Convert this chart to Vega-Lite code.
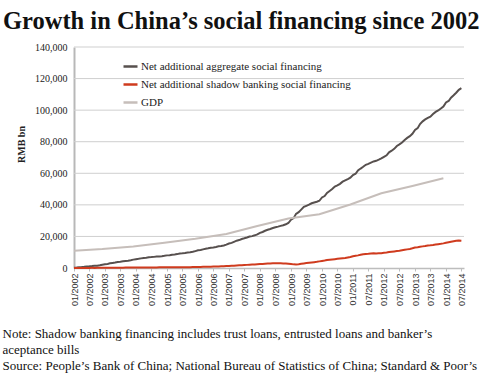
{
  "$schema": "https://vega.github.io/schema/vega-lite/v6.json",
  "width": 390,
  "height": 221,
  "autosize": "none",
  "padding": {"left": 74, "top": 47, "right": 16, "bottom": 108},
  "background": "white",
  "config": {"view": {"stroke": null}},
  "title": {
    "text": "Growth in China’s social financing since 2002",
    "anchor": "start",
    "frame": "group",
    "dx": -71,
    "offset": 8,
    "font": "Liberation Serif",
    "fontSize": 24.5,
    "fontWeight": "bold",
    "color": "#111111"
  },
  "encoding": {
    "y": {
      "field": "value",
      "type": "quantitative",
      "scale": {"domain": [0, 140000], "nice": false},
      "axis": {
        "values": [0, 20000, 40000, 60000, 80000, 100000, 120000, 140000],
        "format": ",.0f",
        "labelExpr": "datum.value == 0 ? '0\u00a0\u00a0\u00a0\u00a0' : datum.label",
        "grid": false,
        "domainColor": "#b8b8b8",
        "domainWidth": 2,
        "ticks": false,
        "labelFont": "Liberation Serif",
        "labelFontSize": 10,
        "labelColor": "#222222",
        "labelPadding": 7,
        "title": "RMB bn",
        "titleFont": "Liberation Serif",
        "titleFontSize": 10,
        "titleFontWeight": "bold",
        "titleColor": "#222222",
        "titleX": -48,
        "titleY": 97
      }
    }
  },
  "layer": [
    {
      "data": {"values": [{"value": 20000}, {"value": 40000}, {"value": 60000}, {"value": 80000}, {"value": 100000}, {"value": 120000}, {"value": 140000}]},
      "mark": {"type": "rule", "color": "#cfcfcf", "strokeWidth": 1},
      "encoding": {}
    },
    {
      "data": {
        "format": {"parse": {"d": "date:'%Y-%m'"}},
        "values": [
          {"d":"2002-01","a":150,"s":0,"g":11000},
          {"d":"2002-02","a":300,"s":30},
          {"d":"2002-03","a":500,"s":10},
          {"d":"2002-04","a":600,"s":40},
          {"d":"2002-05","a":750,"s":60},
          {"d":"2002-06","a":950,"s":40},
          {"d":"2002-07","a":1050,"s":70},
          {"d":"2002-08","a":1200,"s":80},
          {"d":"2002-09","a":1400,"s":60},
          {"d":"2002-10","a":1500,"s":90},
          {"d":"2002-11","a":1750,"s":100},
          {"d":"2002-12","a":2100,"s":80,"g":12000},
          {"d":"2003-01","a":2400,"s":120},
          {"d":"2003-02","a":2600,"s":140},
          {"d":"2003-03","a":2950,"s":160},
          {"d":"2003-04","a":3200,"s":170},
          {"d":"2003-05","a":3450,"s":190},
          {"d":"2003-06","a":3800,"s":200},
          {"d":"2003-07","a":4000,"s":220},
          {"d":"2003-08","a":4250,"s":230},
          {"d":"2003-09","a":4500,"s":250},
          {"d":"2003-10","a":4650,"s":260},
          {"d":"2003-11","a":4950,"s":270},
          {"d":"2003-12","a":5300,"s":280,"g":13600},
          {"d":"2004-01","a":5600,"s":300},
          {"d":"2004-02","a":5800,"s":310},
          {"d":"2004-03","a":6100,"s":330},
          {"d":"2004-04","a":6400,"s":340},
          {"d":"2004-05","a":6550,"s":350},
          {"d":"2004-06","a":6800,"s":360},
          {"d":"2004-07","a":6900,"s":370},
          {"d":"2004-08","a":7050,"s":380},
          {"d":"2004-09","a":7300,"s":390},
          {"d":"2004-10","a":7350,"s":400},
          {"d":"2004-11","a":7500,"s":410},
          {"d":"2004-12","a":7700,"s":420,"g":16000},
          {"d":"2005-01","a":8000,"s":430},
          {"d":"2005-02","a":8100,"s":440},
          {"d":"2005-03","a":8450,"s":450},
          {"d":"2005-04","a":8600,"s":470},
          {"d":"2005-05","a":8800,"s":480},
          {"d":"2005-06","a":9150,"s":500},
          {"d":"2005-07","a":9300,"s":510},
          {"d":"2005-08","a":9500,"s":520},
          {"d":"2005-09","a":9800,"s":540},
          {"d":"2005-10","a":9950,"s":550},
          {"d":"2005-11","a":10250,"s":570},
          {"d":"2005-12","a":10700,"s":600,"g":18500},
          {"d":"2006-01","a":11200,"s":650},
          {"d":"2006-02","a":11400,"s":680},
          {"d":"2006-03","a":11800,"s":720},
          {"d":"2006-04","a":12200,"s":760},
          {"d":"2006-05","a":12450,"s":800},
          {"d":"2006-06","a":12850,"s":850},
          {"d":"2006-07","a":13050,"s":900},
          {"d":"2006-08","a":13350,"s":950},
          {"d":"2006-09","a":13750,"s":1000},
          {"d":"2006-10","a":13900,"s":1050},
          {"d":"2006-11","a":14250,"s":1100},
          {"d":"2006-12","a":14800,"s":1200,"g":21600},
          {"d":"2007-01","a":15500,"s":1300},
          {"d":"2007-02","a":15900,"s":1380},
          {"d":"2007-03","a":16600,"s":1480},
          {"d":"2007-04","a":17300,"s":1580},
          {"d":"2007-05","a":17700,"s":1680},
          {"d":"2007-06","a":18400,"s":1780},
          {"d":"2007-07","a":18800,"s":1880},
          {"d":"2007-08","a":19300,"s":1980},
          {"d":"2007-09","a":19900,"s":2080},
          {"d":"2007-10","a":20200,"s":2180},
          {"d":"2007-11","a":20700,"s":2280},
          {"d":"2007-12","a":21300,"s":2400,"g":26600},
          {"d":"2008-01","a":22300,"s":2500},
          {"d":"2008-02","a":22800,"s":2600},
          {"d":"2008-03","a":23600,"s":2700},
          {"d":"2008-04","a":24200,"s":2800},
          {"d":"2008-05","a":24700,"s":2900},
          {"d":"2008-06","a":25300,"s":2950},
          {"d":"2008-07","a":25800,"s":3000},
          {"d":"2008-08","a":26200,"s":3000},
          {"d":"2008-09","a":26700,"s":2950},
          {"d":"2008-10","a":27100,"s":2900},
          {"d":"2008-11","a":27700,"s":2850},
          {"d":"2008-12","a":28500,"s":2700,"g":31400},
          {"d":"2009-01","a":30600,"s":2500},
          {"d":"2009-02","a":31600,"s":2300},
          {"d":"2009-03","a":34300,"s":2200},
          {"d":"2009-04","a":35400,"s":2400},
          {"d":"2009-05","a":37000,"s":2700},
          {"d":"2009-06","a":38700,"s":2900},
          {"d":"2009-07","a":39400,"s":3100},
          {"d":"2009-08","a":40100,"s":3300},
          {"d":"2009-09","a":41000,"s":3500},
          {"d":"2009-10","a":41500,"s":3700},
          {"d":"2009-11","a":42000,"s":3900},
          {"d":"2009-12","a":42600,"s":4200,"g":34100},
          {"d":"2010-01","a":44700,"s":4500},
          {"d":"2010-02","a":45600,"s":4700},
          {"d":"2010-03","a":47600,"s":5000},
          {"d":"2010-04","a":48800,"s":5200},
          {"d":"2010-05","a":50000,"s":5400},
          {"d":"2010-06","a":51600,"s":5600},
          {"d":"2010-07","a":52300,"s":5800},
          {"d":"2010-08","a":53300,"s":6000},
          {"d":"2010-09","a":54700,"s":6200},
          {"d":"2010-10","a":55500,"s":6400},
          {"d":"2010-11","a":56300,"s":6700},
          {"d":"2010-12","a":57200,"s":7000,"g":40200},
          {"d":"2011-01","a":58900,"s":7400},
          {"d":"2011-02","a":59700,"s":7700},
          {"d":"2011-03","a":61800,"s":8000},
          {"d":"2011-04","a":63000,"s":8400},
          {"d":"2011-05","a":64100,"s":8700},
          {"d":"2011-06","a":65400,"s":8900},
          {"d":"2011-07","a":66000,"s":9000},
          {"d":"2011-08","a":66800,"s":9200},
          {"d":"2011-09","a":67500,"s":9300},
          {"d":"2011-10","a":67900,"s":9200},
          {"d":"2011-11","a":68600,"s":9300},
          {"d":"2011-12","a":69400,"s":9400,"g":47300},
          {"d":"2012-01","a":70400,"s":9600},
          {"d":"2012-02","a":71400,"s":9800},
          {"d":"2012-03","a":73300,"s":10100},
          {"d":"2012-04","a":74300,"s":10300},
          {"d":"2012-05","a":75500,"s":10500},
          {"d":"2012-06","a":77300,"s":10700},
          {"d":"2012-07","a":78300,"s":10900},
          {"d":"2012-08","a":79500,"s":11200},
          {"d":"2012-09","a":81100,"s":11500},
          {"d":"2012-10","a":82400,"s":11800},
          {"d":"2012-11","a":83500,"s":12100},
          {"d":"2012-12","a":85000,"s":12500,"g":52000},
          {"d":"2013-01","a":87500,"s":13000},
          {"d":"2013-02","a":88600,"s":13200},
          {"d":"2013-03","a":91200,"s":13500},
          {"d":"2013-04","a":92900,"s":13700},
          {"d":"2013-05","a":94100,"s":13900},
          {"d":"2013-06","a":95100,"s":14300},
          {"d":"2013-07","a":95900,"s":14400},
          {"d":"2013-08","a":97500,"s":14600},
          {"d":"2013-09","a":98900,"s":14900},
          {"d":"2013-10","a":99800,"s":15100},
          {"d":"2013-11","a":101000,"s":15300},
          {"d":"2013-12","a":102300,"s":15600,"g":56900},
          {"d":"2014-01","a":104900,"s":16000},
          {"d":"2014-02","a":105800,"s":16300},
          {"d":"2014-03","a":107900,"s":16600},
          {"d":"2014-04","a":109400,"s":16900},
          {"d":"2014-05","a":111000,"s":17200},
          {"d":"2014-06","a":112900,"s":17400},
          {"d":"2014-07","a":113900,"s":17300}
        ]
      },
      "transform": [
        {"fold": ["a", "s", "g"], "as": ["series", "value"]},
        {"filter": "isValid(datum.value)"}
      ],
      "mark": {"type": "line", "strokeWidth": 2},
      "encoding": {
        "x": {
          "field": "d",
          "type": "temporal",
          "scale": {"domain": [{"year": 2002, "month": 1, "date": 1}, {"year": 2014, "month": 8, "date": 1}]},
          "axis": {
            "format": "%m/%Y",
            "tickCount": {"interval": "month", "step": 6},
            "labelAngle": -90,
            "labelOverlap": false,
            "labelFlush": false,
            "grid": false,
            "domainColor": "#bdbdbd",
            "domainWidth": 1.5,
            "tickColor": "#bdbdbd",
            "tickSize": 3,
            "labelFont": "Liberation Sans",
            "labelFontSize": 9,
            "labelColor": "#333333",
            "labelPadding": 2,
            "title": [
              "Note: Shadow banking financing includes trust loans, entrusted loans and banker’s",
              "aceptance bills",
              "Source: People’s Bank of China; National Bureau of Statistics of China; Standard & Poor’s"
            ],
            "titleAnchor": "start",
            "titleAlign": "left",
            "titleBaseline": "alphabetic",
            "titleX": -72,
            "titleY": 69,
            "titleLineHeight": 16,
            "titleFont": "Liberation Serif",
            "titleFontSize": 13,
            "titleFontWeight": "normal",
            "titleColor": "#111111"
          }
        },
        "color": {
          "field": "series",
          "type": "nominal",
          "scale": {"domain": ["a", "s", "g"], "range": ["#57504e", "#cf3b1e", "#c6beba"]},
          "legend": {
            "orient": "none",
            "legendX": 48,
            "legendY": 11,
            "padding": 0,
            "title": null,
            "symbolType": "stroke",
            "symbolSize": 196,
            "symbolStrokeWidth": 2.5,
            "labelFont": "Liberation Serif",
            "labelFontSize": 11,
            "labelColor": "#222222",
            "labelOffset": 2,
            "labelLimit": 0,
            "rowPadding": 4,
            "labelExpr": "datum.label == 'a' ? 'Net additional aggregate social financing' : datum.label == 's' ? 'Net additional shadow banking social financing' : 'GDP'"
          }
        }
      }
    }
  ]
}
